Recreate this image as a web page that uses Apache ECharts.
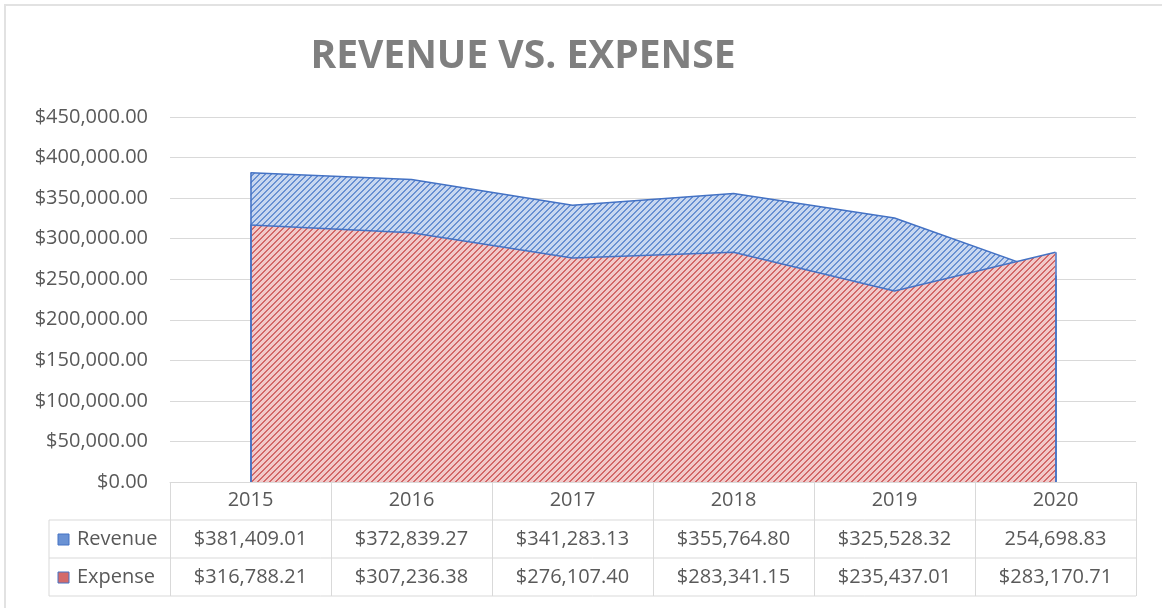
<!DOCTYPE html>
<html>
<head>
<meta charset="utf-8">
<script src="https://cdn.jsdelivr.net/npm/echarts@6/dist/echarts.min.js"></script>
<style>
  html, body { margin: 0; padding: 0; background: #fff; }
  #chart { width: 1162px; height: 608px; }
</style>
</head>
<body>
<div id="chart"></div>
<script>
// data
var years = ['2015', '2016', '2017', '2018', '2019', '2020'];
var revenue = [381409.01, 372839.27, 341283.13, 355764.80, 325528.32, 254698.83];
var expense = [316788.21, 307236.38, 276107.40, 283341.15, 235437.01, 283170.71];
// the 2020 revenue cell has no dollar sign in the original
var revenuePrefix = ['$', '$', '$', '$', '$', ''];
var expensePrefix = ['$', '$', '$', '$', '$', '$'];

var FONT = '"Open Sans", "Liberation Sans", sans-serif';
var TXT = '#595959';
var LINE = '#d9d9d9';
var BORDER = '#4472c4';

// grid box
var gLeft = 170, gRight = 1136, gTop = 117, gBottom = 482;
var rowH = 38;

function money(v) {
    return v.toLocaleString('en-US', { minimumFractionDigits: 2, maximumFractionDigits: 2 });
}

// hatch pattern "/" : dark 2px stripes on a light tile
function hatch(dark, light) {
    var n = 6;
    var c = document.createElement('canvas');
    c.width = n; c.height = n;
    var ctx = c.getContext('2d');
    ctx.fillStyle = light;
    ctx.fillRect(0, 0, n, n);
    ctx.fillStyle = dark;
    for (var x = 0; x < n; x++) {
        for (var y = 0; y < n; y++) {
            var k = (x + y) % n;
            if (k === 0 || k === 1) ctx.fillRect(x, y, 1, 1);
        }
    }
    return { image: c, repeat: 'repeat' };
}
var blueHatch = hatch('#6890d2', '#c8d7f0');
var redHatch = hatch('#d26868', '#f2c9c9');

function edgeLines(values) {
    var last = values.length - 1;
    return [
        [{ coord: [0, 0] }, { coord: [0, values[0]] }],
        [{ coord: [last, 0] }, { coord: [last, values[last]] }]
    ];
}

// data table drawn under the axis
var colW = (gRight - gLeft) / years.length;
var tableLeft = 49;
var tableGraphics = [];
function hline(x1, x2, y) {
    tableGraphics.push({ type: 'line', silent: true, shape: { x1: x1, y1: y, x2: x2, y2: y },
        style: { stroke: LINE, lineWidth: 1 } });
}
function vline(x, y1, y2) {
    tableGraphics.push({ type: 'line', silent: true, shape: { x1: x, y1: y1, x2: x, y2: y2 },
        style: { stroke: LINE, lineWidth: 1 } });
}
hline(tableLeft, gRight, gBottom + rowH);
hline(tableLeft, gRight, gBottom + rowH * 2);
hline(tableLeft, gRight, gBottom + rowH * 3);
vline(tableLeft, gBottom + rowH, gBottom + rowH * 3);

var rows = [
    { name: 'Revenue', values: revenue, prefix: revenuePrefix, key: '#6a92d4' },
    { name: 'Expense', values: expense, prefix: expensePrefix, key: '#d36a6a' }
];
rows.forEach(function (r, ri) {
    var cy = gBottom + rowH * (ri + 1) + rowH / 2;
    tableGraphics.push({ type: 'rect', silent: true, shape: { x: 58, y: cy - 5, width: 11, height: 11 },
        style: { fill: r.key, stroke: BORDER, lineWidth: 1 } });
    tableGraphics.push({ type: 'text', silent: true, x: 77, y: cy,
        style: { text: r.name, font: '20px ' + FONT, fill: TXT, verticalAlign: 'middle', align: 'left' } });
    r.values.forEach(function (v, i) {
        tableGraphics.push({ type: 'text', silent: true, x: gLeft + colW * (i + 0.5), y: cy,
            style: { text: r.prefix[i] + money(v), font: '20px ' + FONT, fill: TXT,
                verticalAlign: 'middle', align: 'center' } });
    });
});
// outer chart border (top/left visible)
tableGraphics.push({ type: 'rect', silent: true, shape: { x: 5, y: 5, width: 1170, height: 620 },
    style: { fill: 'none', stroke: '#e2e2e2', lineWidth: 2 } });

var option = {
    animation: false,
    title: {
        text: 'REVENUE VS. EXPENSE',
        left: 518,
        top: 32,
        textAlign: 'center',
        textStyle: { color: '#7f7f7f', fontSize: 39, fontWeight: 'bold', fontFamily: FONT }
    },
    grid: { left: gLeft, right: 1162 - gRight, top: gTop, bottom: 608 - gBottom },
    xAxis: {
        type: 'category',
        data: years,
        boundaryGap: true,
        axisLine: { show: true, lineStyle: { color: LINE, width: 1 } },
        axisTick: { show: true, length: rowH * 3, lineStyle: { color: LINE, width: 1 } },
        axisLabel: { color: TXT, fontSize: 20, fontFamily: FONT, margin: 8 },
        splitLine: { show: false }
    },
    yAxis: {
        type: 'value',
        min: 0,
        max: 450000,
        interval: 50000,
        axisLine: { show: false },
        axisTick: { show: false },
        axisLabel: {
            color: TXT, fontSize: 20, fontFamily: FONT, margin: 22,
            formatter: function (v) { return '$' + money(v); }
        },
        splitLine: { lineStyle: { color: LINE, width: 1 } }
    },
    series: [
        {
            name: 'Revenue',
            type: 'line',
            data: revenue,
            showSymbol: false,
            lineStyle: { color: BORDER, width: 1.5 },
            areaStyle: { color: blueHatch, opacity: 1 },
            markLine: { silent: true, symbol: 'none', label: { show: false },
                lineStyle: { color: BORDER, width: 1.5, type: 'solid' }, data: edgeLines(revenue) },
            z: 2
        },
        {
            name: 'Expense',
            type: 'line',
            data: expense,
            showSymbol: false,
            lineStyle: { color: BORDER, width: 1.5 },
            areaStyle: { color: redHatch, opacity: 1 },
            markLine: { silent: true, symbol: 'none', label: { show: false },
                lineStyle: { color: BORDER, width: 1.5, type: 'solid' }, data: edgeLines(expense) },
            z: 3
        }
    ],
    graphic: tableGraphics
};

var chart = echarts.init(document.getElementById('chart'));
chart.setOption(option);
</script>
</body>
</html>
